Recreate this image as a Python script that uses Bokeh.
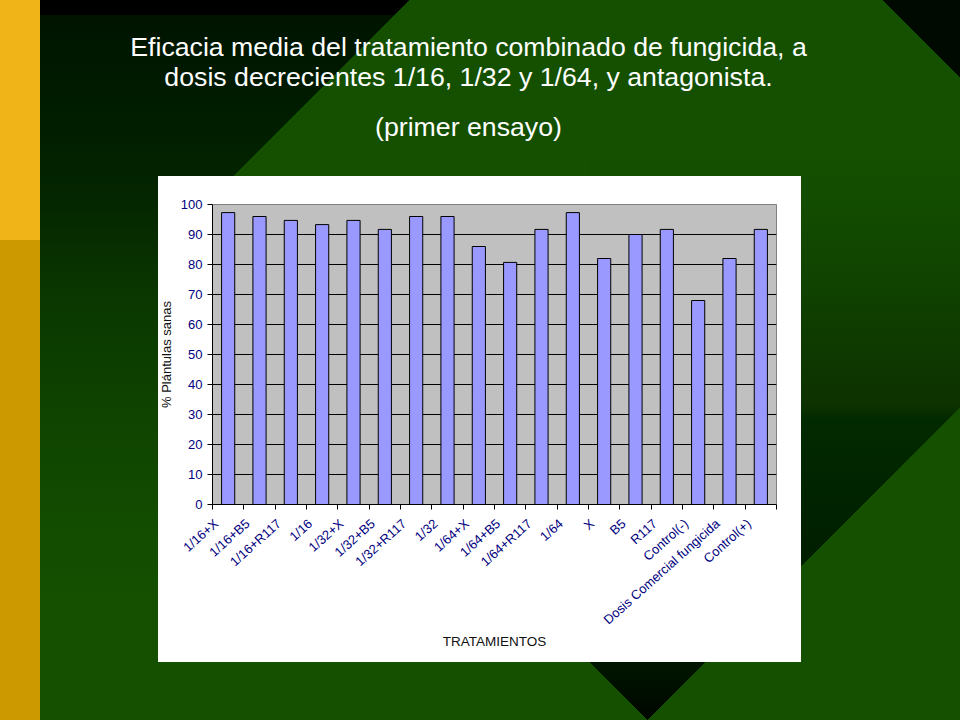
import math
from bokeh.plotting import figure
from bokeh.models import Range1d, FixedTicker, Label
from bokeh.embed import file_html
from bokeh.resources import INLINE

# ---------------- data ----------------
categories = ["1/16+X", "1/16+B5", "1/16+R117", "1/16",
              "1/32+X", "1/32+B5", "1/32+R117", "1/32",
              "1/64+X", "1/64+B5", "1/64+R117", "1/64",
              "X", "B5", "R117", "Control(-)",
              "Dosis Comercial fungicida", "Control(+)"]
values = [97.3, 96.0, 94.7, 93.3,
          94.7, 91.7, 96.0, 96.0,
          86.0, 80.7, 91.7, 97.3,
          82.0, 90.0, 91.7, 68.0,
          82.0, 91.7]
y_ticks = [0, 10, 20, 30, 40, 50, 60, 70, 80, 90, 100]
title_lines = ["Eficacia media del tratamiento combinado de fungicida, a",
               "dosis decrecientes 1/16, 1/32 y 1/64, y antagonista.",
               "(primer ensayo)"]
y_label = "% Plántulas sanas"
x_label = "TRATAMIENTOS"

# ---------------- layout (slide pixel coords) ----------------
W, H = 960, 720
FRAME_L, FRAME_R, FRAME_T, FRAME_B = 212, 776, 204, 504
FONT = "Liberation Sans"
GREEN = "#145000"
LABEL_SHIFT = 0.38   # rotated tick labels end a little left of the category centre

n = len(categories)
xpos = [i + 0.5 for i in range(n)]
label_pos = [x - LABEL_SHIFT for x in xpos]

p = figure(width=W, height=H, output_backend="svg", toolbar_location=None,
           x_range=Range1d(0, n), y_range=Range1d(0, 100),
           min_border_left=FRAME_L, min_border_right=W - FRAME_R,
           min_border_top=FRAME_T, min_border_bottom=H - FRAME_B)
p.border_fill_color = None
p.background_fill_color = "#C0C0C0"
p.outline_line_color = "#808080"
p.outline_line_width = 1


def stops(pairs):
    return ", ".join(f"{c} {y}px" for y, c in pairs)


left_grad = stops([(0, "#000000"), (15, "#000000"), (15, "#001400"), (100, "#001c00"),
                   (200, "#042600"), (300, "#0a3800"), (420, "#0f4400"),
                   (520, "#124c00"), (600, GREEN), (720, GREEN)])
right_grad = stops([(0, GREEN), (50, "#134d00"), (150, "#0f4000"), (255, "#0d3200"),
                    (270, "#022a00"), (410, "#001e00"), (512, "#001600"), (570, "#000600")])

slide_background = ", ".join([
    # gold strip at the left
    "linear-gradient(to bottom, #F0B418 0px, #F0B418 240px, #CC9900 240px, #CC9900 720px) 0px 0px / 40px 720px no-repeat",
    # white chart area
    "linear-gradient(#ffffff, #ffffff) 158px 176px / 643px 486px no-repeat",
    # dark top right corner
    "linear-gradient(to bottom left, #000a00 50%, transparent 50%) 883px 0px / 77px 77px no-repeat",
    # green diagonal over the dark top-left area
    f"linear-gradient(to bottom right, transparent 50%, {GREEN} 50%) 158px 0px / 252px 252px no-repeat",
    # green lower-right triangle
    f"linear-gradient(to bottom right, transparent 50%, {GREEN} 50%) 648px 408px / 312px 312px no-repeat",
    # green left of the bottom dark triangle
    f"linear-gradient(to bottom left, transparent 50%, {GREEN} 50%) 589px 662px / 58px 58px no-repeat",
    # dark gradient top-left
    f"linear-gradient(to bottom, {left_grad}) 40px 0px / 370px 720px no-repeat",
    # dark gradient wedge at the right / bottom
    f"linear-gradient(to bottom, {right_grad}) 589px 150px / 371px 570px no-repeat",
    GREEN,
])
p.styles = {"background": slide_background}

# ---------------- title ----------------
title_y = [46.5, 76.5, 126]
for txt, ty in zip(title_lines, title_y):
    p.add_layout(Label(x=468, y=ty, x_units="canvas", y_units="canvas",
                       text=txt, text_align="center", text_baseline="alphabetic",
                       text_font=FONT, text_font_size="26.7px", text_color="white"),
                 "above")

# ---------------- bars ----------------
p.vbar(x=xpos, top=values, bottom=0, width=0.42,
       fill_color="#9999FF", line_color="black", line_width=1)

# ---------------- axes & grid ----------------
p.xgrid.visible = False
p.ygrid.ticker = FixedTicker(ticks=y_ticks[1:-1])
p.ygrid.grid_line_color = "black"
p.ygrid.grid_line_width = 1

ya = p.yaxis[0]
ya.ticker = FixedTicker(ticks=y_ticks)
ya.axis_line_color = "black"
ya.major_tick_out = 5
ya.major_tick_in = 0
ya.minor_tick_out = 0
ya.minor_tick_in = 0
ya.major_tick_line_color = "black"
ya.major_label_text_font = FONT
ya.major_label_text_font_size = "13px"
ya.major_label_text_color = "#000080"
ya.major_label_standoff = 5
ya.axis_label = y_label
ya.axis_label_text_font = FONT
ya.axis_label_text_font_size = "13px"
ya.axis_label_text_font_style = "normal"
ya.axis_label_text_color = "#111111"
ya.axis_label_standoff = 4

xa = p.xaxis[0]
xa.ticker = FixedTicker(ticks=label_pos, minor_ticks=list(range(n + 1)))
xa.major_label_overrides = {x: c for x, c in zip(label_pos, categories)}
xa.axis_line_color = "black"
xa.major_tick_out = 0
xa.major_tick_in = 0
xa.minor_tick_out = 5
xa.minor_tick_in = 0
xa.minor_tick_line_color = "black"
xa.major_label_orientation = 0.73
xa.major_label_text_font = FONT
xa.major_label_text_font_size = "13px"
xa.major_label_text_color = "#000080"
xa.major_label_standoff = 12
xa.axis_label = x_label
xa.axis_label_text_font = FONT
xa.axis_label_text_font_size = "13.5px"
xa.axis_label_text_font_style = "normal"
xa.axis_label_text_color = "#111111"
xa.axis_label_standoff = -2

open("out.html", "w").write(file_html(p, INLINE))
